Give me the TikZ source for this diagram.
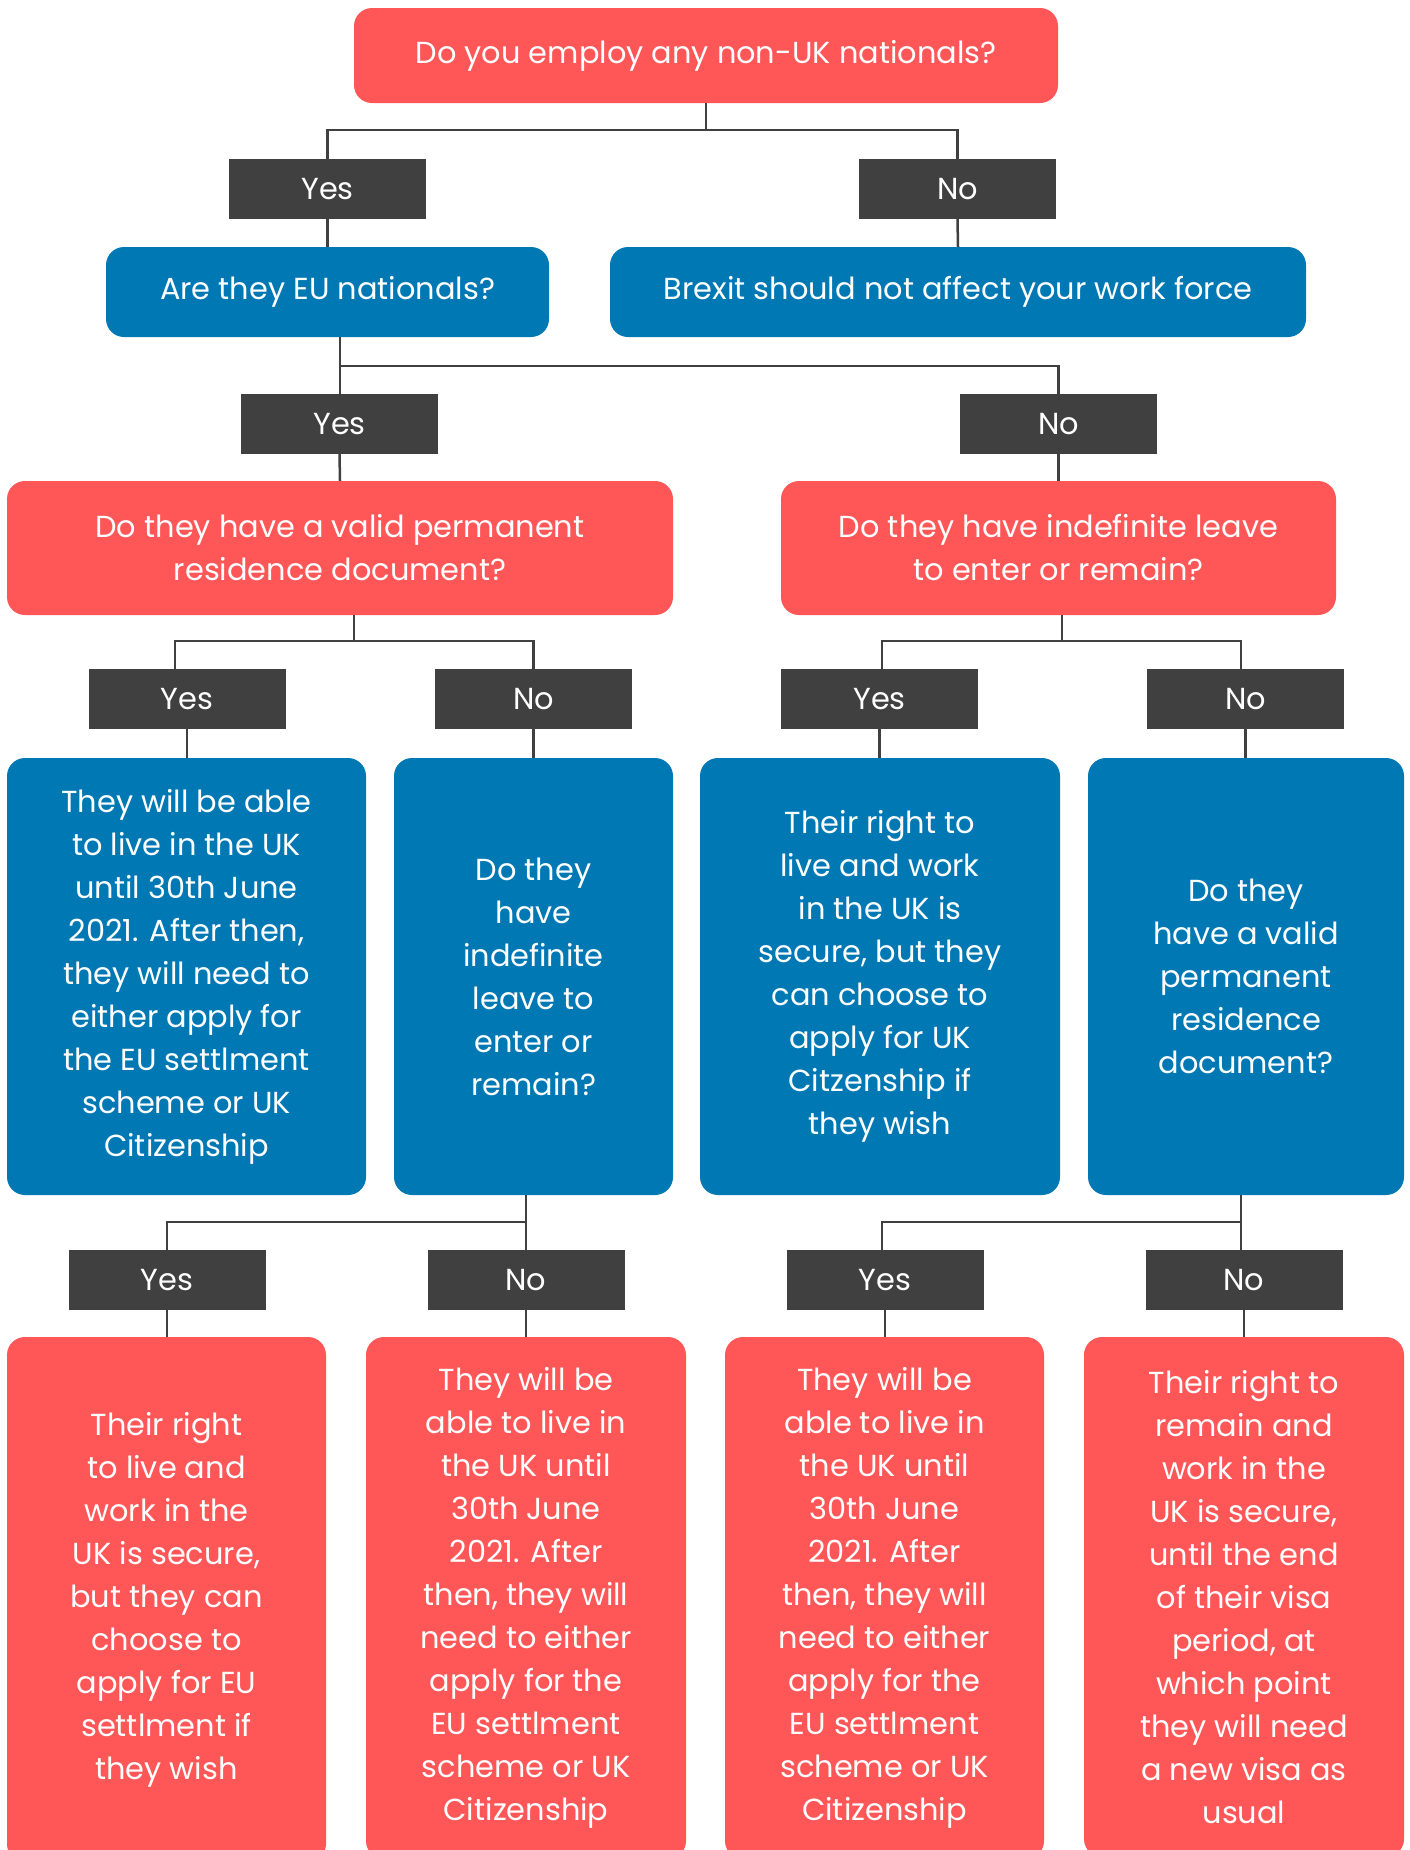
\documentclass[tikz,border=0pt]{standalone}
\usepackage{fontspec}
\setmainfont{Poppins}
\definecolor{cred}{HTML}{FF5757}
\definecolor{cblue}{HTML}{0078B4}
\definecolor{cdark}{HTML}{404040}
\begin{document}
\begin{tikzpicture}[x=1pt,y=-1pt,
  base/.style={rectangle,inner sep=0pt,align=center,text=white,font=\fontsize{30.4}{43}\selectfont},
  redbox/.style={base,fill=cred,rounded corners=18pt},
  bluebox/.style={base,fill=cblue,rounded corners=18pt},
  ans/.style={base,fill=cdark,minimum width=197pt,minimum height=60pt},
  conn/.style={draw=cdark,line width=2.5pt}]
\useasboundingbox (0,0) rectangle (1410,1850);
\clip (0,0) rectangle (1410,1850);
\fill[white] (0,0) rectangle (1410,1850);

% level 1
\node[redbox,minimum width=704pt,minimum height=95pt] (q1) at (706,55.5) {Do you employ any non-UK nationals?};
\node[ans] (y1) at (327.5,189) {Yes};
\node[ans] (n1) at (957.5,189) {No};
\node[bluebox,minimum width=443pt,minimum height=90pt] (eu) at (327.5,292) {Are they EU nationals?};
\node[bluebox,minimum width=696pt,minimum height=90pt] (brexit) at (958,292) {Brexit should not affect your work force};

% level 2
\node[ans] (y2) at (339.5,424) {Yes};
\node[ans] (n2) at (1058.5,424) {No};
\node[redbox,minimum width=666pt,minimum height=134pt] (prd) at (340,548) {Do they have a valid permanent\\residence document?};
\node[redbox,minimum width=555pt,minimum height=134pt] (ilr) at (1058.5,548) {Do they have indefinite leave\\to enter or remain?};

% level 3
\node[ans] (y3a) at (187,699) {Yes};
\node[ans] (n3a) at (533.5,699) {No};
\node[ans] (y3b) at (879.5,699) {Yes};
\node[ans] (n3b) at (1245.5,699) {No};
\node[bluebox,minimum width=359pt,minimum height=437pt] (b1) at (186.5,976.5) {They will be able\\to live in the UK\\until 30th June\\2021. After then,\\they will need to\\either apply for\\the EU settlment\\scheme or UK\\Citizenship};
\node[bluebox,minimum width=279pt,minimum height=437pt] (b2) at (533.5,976.5) {Do they\\have\\indefinite\\leave to\\enter or\\remain?};
\node[bluebox,minimum width=360pt,minimum height=437pt] (b3) at (880,976.5) {Their right to\\live and work\\in the UK is\\secure, but they\\can choose to\\apply for UK\\Citzenship if\\they wish};
\node[bluebox,minimum width=316pt,minimum height=437pt] (b4) at (1246,976.5) {Do they\\have a valid\\permanent\\residence\\document?};

% level 4
\node[ans] (y4a) at (167,1280) {Yes};
\node[ans] (n4a) at (526,1280) {No};
\node[ans] (y4b) at (885,1280) {Yes};
\node[ans] (n4b) at (1244,1280) {No};
\node[redbox,minimum width=319pt,minimum height=525pt] (r1) at (166.5,1599.5) {Their right\\to live and\\work in the\\UK is secure,\\but they can\\choose to\\apply for EU\\settlment if\\they wish};
\node[redbox,minimum width=320pt,minimum height=522pt] (r2) at (526,1598) {They will be\\able to live in\\the UK until\\30th June\\2021. After\\then, they will\\need to either\\apply for the\\EU settlment\\scheme or UK\\Citizenship};
\node[redbox,minimum width=319pt,minimum height=522pt] (r3) at (884.5,1598) {They will be\\able to live in\\the UK until\\30th June\\2021. After\\then, they will\\need to either\\apply for the\\EU settlment\\scheme or UK\\Citizenship};
\node[redbox,minimum width=320pt,minimum height=520pt] (r4) at (1244,1597) {Their right to\\remain and\\work in the\\UK is secure,\\until the end\\of their visa\\period, at\\which point\\they will need\\a new visa as\\usual};

% junction coordinates
\coordinate (j1) at (706,130);
\coordinate (j2) at (340,366);
\coordinate (j3a) at (354,641);
\coordinate (j3b) at (1062,641);
\coordinate (j4a) at (526,1222);
\coordinate (j4b) at (1241,1222);

% connectors
\draw[conn] (q1.south) -- (j1);
\draw[conn] (j1) -| (y1.north);
\draw[conn] (j1) -| (n1.north);
\draw[conn] (y1.south) -- (eu.north);
\draw[conn] (n1.south) -- (brexit.north);

\draw[conn] (eu.south -| j2) -- (j2) -- (y2.north -| j2);
\draw[conn] (j2) -| (n2.north);
\draw[conn] (y2.south) -- (prd.north);
\draw[conn] (n2.south) -- (ilr.north);

\draw[conn] (prd.south -| j3a) -- (j3a);
\draw[conn] (j3a) -| ([xshift=-12pt]y3a.north);
\draw[conn] (j3a) -| (n3a.north);
\draw[conn] (ilr.south -| j3b) -- (j3b);
\draw[conn] (j3b) -| ([xshift=2.5pt]y3b.north);
\draw[conn] (j3b) -| ([xshift=-4.5pt]n3b.north);
\draw[conn] (y3a.south) -- (b1.north -| y3a.south);
\draw[conn] (n3a.south) -- (b2.north);
\draw[conn] (y3b.south) -- (b3.north -| y3b.south);
\draw[conn] (n3b.south) -- (b4.north -| n3b.south);

\draw[conn] (b2.south -| j4a) -- (j4a) -- (n4a.north);
\draw[conn] (j4a) -| (y4a.north);
\draw[conn] (b4.south -| j4b) -- (j4b) -- (n4b.north -| j4b);
\draw[conn] (j4b) -| ([xshift=-3pt]y4b.north);
\draw[conn] (y4a.south) -- (r1.north -| y4a.south);
\draw[conn] (n4a.south) -- (r2.north);
\draw[conn] (y4b.south) -- (r3.north -| y4b.south);
\draw[conn] (n4b.south) -- (r4.north);
\end{tikzpicture}
\end{document}
